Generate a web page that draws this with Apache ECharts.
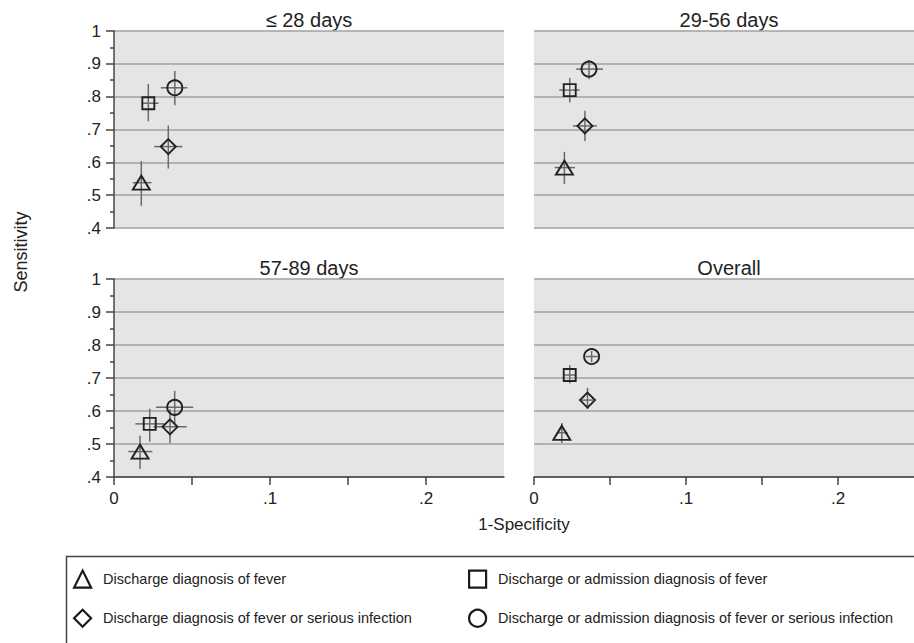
<!DOCTYPE html>
<html>
<head>
<meta charset="utf-8">
<script src="https://cdn.jsdelivr.net/npm/echarts@6/dist/echarts.min.js"></script>
<style>
html,body{margin:0;padding:0;background:#fff;}
#chart{width:914px;height:643px;}
</style>
</head>
<body>
<div id="chart"></div>
<script>
// ---- data ----
const panelTitles = ['≤ 28 days', '29-56 days', '57-89 days', 'Overall'];
const seriesNames = [
  'Discharge diagnosis of fever',
  'Discharge or admission diagnosis of fever',
  'Discharge diagnosis of fever or serious infection',
  'Discharge or admission diagnosis of fever or serious infection'
];
const yTickLabels = ['.4', '.5', '.6', '.7', '.8', '.9', '1'];
const xTickLabels = ['0', '.1', '.2'];
// rows per panel: [1-specificity, sensitivity, xLow, xHigh, yLow, yHigh]
const dischargeFever = [
  [0.0175, 0.538, 0.0120, 0.0240, 0.468, 0.604],
  [0.0200, 0.584, 0.0136, 0.0270, 0.534, 0.632],
  [0.0167, 0.477, 0.0092, 0.0246, 0.424, 0.525],
  [0.0183, 0.534, 0.0150, 0.0220, 0.503, 0.564]
];
const dischargeAdmitFever = [
  [0.0220, 0.780, 0.0177, 0.0286, 0.725, 0.839],
  [0.0235, 0.820, 0.0166, 0.0300, 0.782, 0.857],
  [0.0229, 0.561, 0.0137, 0.0322, 0.507, 0.607],
  [0.0235, 0.709, 0.0200, 0.0270, 0.684, 0.739]
];
const dischargeFeverSerious = [
  [0.0348, 0.648, 0.0258, 0.0438, 0.581, 0.712],
  [0.0335, 0.711, 0.0256, 0.0414, 0.665, 0.757],
  [0.0359, 0.552, 0.0252, 0.0466, 0.502, 0.605],
  [0.0352, 0.633, 0.0310, 0.0390, 0.606, 0.670]
];
const dischargeAdmitFeverSerious = [
  [0.0390, 0.827, 0.0300, 0.0470, 0.774, 0.878],
  [0.0362, 0.884, 0.0277, 0.0454, 0.853, 0.912],
  [0.0389, 0.611, 0.0269, 0.0508, 0.561, 0.661],
  [0.0379, 0.765, 0.0340, 0.0420, 0.748, 0.782]
];
const allSeries = [dischargeFever, dischargeAdmitFever, dischargeFeverSerious, dischargeAdmitFeverSerious];

// ---- styles ----
const FONT = '"Liberation Sans", Arial, sans-serif';
const symbols = ['triangle', 'rect', 'diamond', 'circle'];
const symbolSizes = [[17, 14], 12, 15, 15];
const gridDefs = [
  {left: 114, top: 31, width: 390, height: 197},
  {left: 534, top: 31, width: 391, height: 197},
  {left: 114, top: 279, width: 390, height: 198},
  {left: 534, top: 279, width: 391, height: 198}
];

const chart = echarts.init(document.getElementById('chart'), null, {renderer: 'svg'});

const grid = gridDefs.map(g => Object.assign({show: true, backgroundColor: '#e5e5e5', borderWidth: 0}, g));

const xAxis = gridDefs.map((g, i) => ({
  gridIndex: i, type: 'value', min: 0, max: 0.25, interval: 0.05,
  show: i >= 2,
  axisLine: {show: true, onZero: false, lineStyle: {color: '#444', width: 1.5}},
  axisTick: {show: true, length: 8, customValues: [0, 0.05, 0.1, 0.15, 0.2], lineStyle: {color: '#444', width: 1.5}},
  axisLabel: {
    customValues: [0, 0.1, 0.2], margin: 13, fontSize: 17, color: '#222', fontFamily: FONT,
    formatter: v => xTickLabels[Math.round(v * 10)]
  },
  splitLine: {show: false}
}));

const yAxis = gridDefs.map((g, i) => ({
  gridIndex: i, type: 'value', min: 0.4, max: 1, interval: 0.1,
  axisLine: {show: i % 2 === 0, onZero: false, lineStyle: {color: '#444', width: 1.5}},
  axisTick: {show: i % 2 === 0, length: 8, lineStyle: {color: '#444', width: 1.5}},
  minorTick: {show: i % 2 === 0, splitNumber: 2, length: 4, lineStyle: {color: '#444', width: 1.5}},
  axisLabel: {
    show: i % 2 === 0, margin: 13, fontSize: 17, color: '#222', fontFamily: FONT,
    formatter: v => yTickLabels[Math.round((v - 0.4) * 10)]
  },
  splitLine: {show: true, lineStyle: {color: '#a0a0a0', width: 1.5}}
}));

function renderBars(params, api) {
  const x = api.value(0), y = api.value(1);
  const a = api.coord([api.value(2), y]), b = api.coord([api.value(3), y]);
  const c = api.coord([x, api.value(4)]), d = api.coord([x, api.value(5)]);
  const st = {stroke: '#6a6a6a', lineWidth: 1.5};
  return {type: 'group', children: [
    {type: 'line', shape: {x1: a[0], y1: a[1], x2: b[0], y2: b[1]}, style: st},
    {type: 'line', shape: {x1: c[0], y1: c[1], x2: d[0], y2: d[1]}, style: st}
  ]};
}

const series = [];
for (let p = 0; p < 4; p++) {
  series.push({
    type: 'custom', name: 'ci' + p, xAxisIndex: p, yAxisIndex: p, silent: true, z: 1,
    dimensions: ['x', 'y', 'xl', 'xh', 'yl', 'yh'],
    encode: {x: 0, y: 1},
    data: allSeries.map(s => s[p]),
    renderItem: renderBars
  });
  for (let s = 0; s < 4; s++) {
    series.push({
      type: 'scatter', name: seriesNames[s], xAxisIndex: p, yAxisIndex: p, z: 3,
      symbol: symbols[s], symbolSize: symbolSizes[s],
      encode: {x: 0, y: 1},
      data: [allSeries[s][p]],
      itemStyle: {color: 'transparent', borderColor: '#222', borderWidth: 1.9, opacity: 1},
      emphasis: {disabled: true}
    });
  }
}

const legendCommon = {
  orient: 'vertical', top: 569.5, padding: 0, itemGap: 20, itemWidth: 17, itemHeight: 17,
  selectedMode: false,
  textStyle: {fontSize: 14.5, color: '#222', fontFamily: FONT, padding: [0, 0, 0, 7]},
  itemStyle: {color: 'transparent', borderColor: '#1a1a1a', borderWidth: 2.2}
};

const graphic = [];
gridDefs.forEach((g, i) => {
  graphic.push({
    type: 'text', x: g.left + 195, y: g.top - 11,
    style: {text: panelTitles[i], font: '20px ' + FONT, fill: '#222', textAlign: 'center', textVerticalAlign: 'middle'}
  });
});
graphic.push({
  type: 'text', x: 21, y: 252, rotation: Math.PI / 2,
  style: {text: 'Sensitivity', font: '18px ' + FONT, fill: '#222', textAlign: 'center', textVerticalAlign: 'middle'}
});
graphic.push({
  type: 'text', x: 524, y: 524,
  style: {text: '1-Specificity', font: '17px ' + FONT, fill: '#222', textAlign: 'center', textVerticalAlign: 'middle'}
});
graphic.push({
  type: 'rect', shape: {x: 66.5, y: 556.5, width: 900, height: 120},
  style: {fill: 'none', stroke: '#444', lineWidth: 1.5}
});

chart.setOption({
  animation: false,
  backgroundColor: '#fff',
  grid, xAxis, yAxis, series,
  legend: [
    Object.assign({}, legendCommon, {left: 73, data: [seriesNames[0], seriesNames[2]]}),
    Object.assign({}, legendCommon, {left: 468, data: [seriesNames[1], seriesNames[3]]})
  ],
  graphic
});
</script>
</body>
</html>
